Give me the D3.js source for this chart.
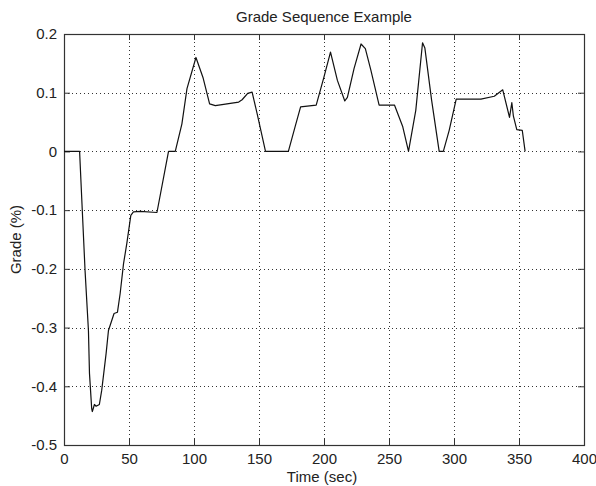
<!DOCTYPE html>
<html>
<head>
<meta charset="utf-8">
<script src="https://cdn.jsdelivr.net/npm/d3@7"></script>
<style>
  html, body { margin: 0; padding: 0; background: #ffffff; }
  svg { display: block; }
  text { font-family: "Liberation Sans", Arial, sans-serif; fill: #222; }
</style>
</head>
<body>
<svg id="chart" width="596" height="486"></svg>
<script>
// Grade profile over time
const timeSec = [0, 12, 13.6, 16.2, 18.8, 19.6, 21.3, 21.8, 23.4, 24.7, 27.2, 29, 32.4, 34.2, 38.5, 41.1, 43.2, 45.8, 48.3, 51.4, 53.4, 58.6, 71.5, 80.4, 85.6, 90.7, 94.6, 101.5, 106.9, 112, 116.4, 125.4, 134.4, 137, 141.3, 144.7, 148.6, 155, 172.6, 178, 182, 194, 199.9, 205, 210.3, 216, 218, 223.1, 228.5, 231.8, 236, 242.4, 254.2, 260.6, 265, 270.6, 275.8, 277.6, 282.8, 288.6, 291.8, 296.3, 301.7, 320.7, 331, 337.5, 342.7, 344.5, 345.7, 348.3, 352.5, 354.7];
const gradePct = [0, 0, -0.078, -0.203, -0.305, -0.378, -0.438, -0.443, -0.431, -0.434, -0.431, -0.407, -0.344, -0.305, -0.276, -0.274, -0.242, -0.191, -0.157, -0.109, -0.103, -0.102, -0.104, 0, 0, 0.047, 0.107, 0.160, 0.126, 0.081, 0.078, 0.081, 0.084, 0.088, 0.099, 0.101, 0.064, 0, 0, 0.044, 0.076, 0.079, 0.126, 0.169, 0.121, 0.086, 0.092, 0.141, 0.183, 0.175, 0.139, 0.079, 0.079, 0.042, 0, 0.070, 0.185, 0.176, 0.087, 0, 0, 0.036, 0.089, 0.089, 0.094, 0.105, 0.058, 0.083, 0.060, 0.037, 0.036, 0];

const xTicks = [0, 50, 100, 150, 200, 250, 300, 350, 400];
const yTicks = [0.2, 0.1, 0, -0.1, -0.2, -0.3, -0.4, -0.5];
const yTickLabels = ["0.2", "0.1", "0", "-0.1", "-0.2", "-0.3", "-0.4", "-0.5"];

const chartTitle = "Grade Sequence Example";
const xTitle = "Time (sec)";
const yTitle = "Grade (%)";

const plotL = 64, plotR = 584, plotT = 34, plotB = 445;
const svg = d3.select("#chart");

const x = d3.scaleLinear().domain([0, 400]).range([plotL, plotR]);
const y = d3.scaleLinear().domain([-0.5, 0.2]).range([plotB, plotT]);

// plot background
svg.append("rect")
  .attr("x", plotL).attr("y", plotT)
  .attr("width", plotR - plotL).attr("height", plotB - plotT)
  .attr("fill", "#ffffff");

// dotted grid
const grid = svg.append("g").attr("stroke", "#333").attr("stroke-width", 1)
  .attr("stroke-dasharray", "1,3").attr("shape-rendering", "crispEdges");
grid.selectAll("line.gx").data(xTicks.slice(1, -1)).join("line")
  .attr("x1", d => Math.round(x(d)) + 0.5).attr("x2", d => Math.round(x(d)) + 0.5)
  .attr("y1", plotT).attr("y2", plotB);
grid.selectAll("line.gy").data(yTicks.slice(1, -1)).join("line")
  .attr("y1", d => Math.round(y(d)) + 0.5).attr("y2", d => Math.round(y(d)) + 0.5)
  .attr("x1", plotL).attr("x2", plotR);

// axes with inward ticks on all four sides
const tickLen = 6;
const styleAxis = g => {
  g.select(".domain").remove();
  g.selectAll(".tick line").attr("stroke", "#333").attr("stroke-width", 1);
  g.selectAll(".tick text")
    .attr("font-size", 15)
    .attr("font-family", "'Liberation Sans', Arial, sans-serif")
    .attr("fill", "#222");
};

svg.append("g").attr("transform", `translate(0,${plotB})`)
  .call(d3.axisBottom(x).tickValues(xTicks).tickFormat(d3.format("d"))
    .tickSizeInner(-tickLen).tickSizeOuter(0).tickPadding(8))
  .call(styleAxis);

svg.append("g").attr("transform", `translate(0,${plotT})`)
  .call(d3.axisTop(x).tickValues(xTicks).tickFormat("")
    .tickSizeInner(-tickLen).tickSizeOuter(0))
  .call(styleAxis);

svg.append("g").attr("transform", `translate(${plotL},0)`)
  .call(d3.axisLeft(y).tickValues(yTicks)
    .tickFormat((d, i) => yTickLabels[i])
    .tickSizeInner(-tickLen).tickSizeOuter(0).tickPadding(7))
  .call(styleAxis);

svg.append("g").attr("transform", `translate(${plotR},0)`)
  .call(d3.axisRight(y).tickValues(yTicks).tickFormat("")
    .tickSizeInner(-tickLen).tickSizeOuter(0))
  .call(styleAxis);

// box
svg.append("rect")
  .attr("x", plotL + 0.5).attr("y", plotT + 0.5)
  .attr("width", plotR - plotL).attr("height", plotB - plotT)
  .attr("fill", "none").attr("stroke", "#333").attr("stroke-width", 1.2);

// grade line
const pts = timeSec.map((t, i) => [t, gradePct[i]]);
svg.append("path")
  .datum(pts)
  .attr("fill", "none")
  .attr("stroke", "#111")
  .attr("stroke-width", 1.2)
  .attr("stroke-linejoin", "round")
  .attr("d", d3.line().x(d => x(d[0])).y(d => y(d[1])));

// titles
svg.append("text")
  .attr("x", (plotL + plotR) / 2).attr("y", 22)
  .attr("text-anchor", "middle").attr("font-size", 15)
  .text(chartTitle);

svg.append("text")
  .attr("x", 322).attr("y", 482)
  .attr("text-anchor", "middle").attr("font-size", 15)
  .text(xTitle);

svg.append("text")
  .attr("transform", `translate(21,${(plotT + plotB) / 2}) rotate(-90)`)
  .attr("text-anchor", "middle").attr("font-size", 15)
  .text(yTitle);
</script>
</body>
</html>
